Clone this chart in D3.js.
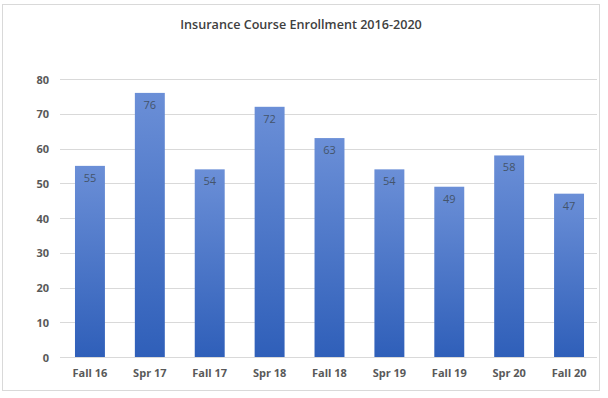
<!DOCTYPE html>
<html>
<head>
<meta charset="utf-8">
<script src="https://cdn.jsdelivr.net/npm/d3@7"></script>
<style>
  body { margin: 0; background: #fff; }
  svg { display: block; }
</style>
</head>
<body>
<div id="chart"></div>
<script>
const terms = ["Fall 16", "Spr 17", "Fall 17", "Spr 18", "Fall 18", "Spr 19", "Fall 19", "Spr 20", "Fall 20"]
const enrollment = [55, 76, 54, 72, 63, 54, 49, 58, 47]
const yTicks = [0, 10, 20, 30, 40, 50, 60, 70, 80]
const title = "Insurance Course Enrollment 2016-2020"

const width = 608, height = 398
const margin = { top: 79, right: 9, bottom: 40, left: 60 }
const font = "'Open Sans', 'Noto Sans', sans-serif"

const svg = d3.select("#chart").append("svg")
  .attr("width", width)
  .attr("height", height)

// frame
svg.append("rect")
  .attr("x", 2.5).attr("y", 4.5)
  .attr("width", 597).attr("height", 386)
  .attr("fill", "#fff")
  .attr("stroke", "#d9d9d9")

const grad = svg.append("defs").append("linearGradient")
  .attr("id", "barGrad")
  .attr("x1", 0).attr("y1", 0).attr("x2", 0).attr("y2", 1)
grad.append("stop").attr("offset", "0%").attr("stop-color", "#6b8fd7")
grad.append("stop").attr("offset", "100%").attr("stop-color", "#2f5fb9")

const x = d3.scaleBand()
  .domain(terms)
  .range([margin.left, width - margin.right])
  .paddingInner(0.5)
  .paddingOuter(0.25)

const y = d3.scaleLinear()
  .domain([0, 80])
  .range([height - margin.bottom - 1, margin.top])

// gridlines
svg.append("g")
  .attr("stroke", "#d9d9d9")
  .selectAll("line")
  .data(yTicks)
  .join("line")
  .attr("x1", margin.left)
  .attr("x2", width - margin.right - 2)
  .attr("y1", d => Math.round(y(d)) + 0.5)
  .attr("y2", d => Math.round(y(d)) + 0.5)

// y axis labels
const yAxis = svg.append("g")
  .attr("transform", `translate(${margin.left},0.5)`)
  .call(d3.axisLeft(y).tickValues(yTicks).tickSize(0).tickPadding(11))
yAxis.select(".domain").remove()
yAxis.selectAll("text")
  .attr("font-family", font)
  .attr("font-size", 11)
  .attr("font-weight", "bold")
  .attr("fill", "#595959")

// x axis labels
const xAxis = svg.append("g")
  .attr("transform", `translate(0,${y(0)})`)
  .call(d3.axisBottom(x).tickSize(0).tickPadding(12))
xAxis.select(".domain").remove()
xAxis.selectAll("text")
  .attr("font-family", font)
  .attr("font-size", 11)
  .attr("font-weight", "bold")
  .attr("fill", "#595959")

// bars
svg.append("g")
  .selectAll("rect")
  .data(terms)
  .join("rect")
  .attr("x", d => x(d))
  .attr("y", (d, i) => y(enrollment[i]))
  .attr("width", x.bandwidth())
  .attr("height", (d, i) => y(0) - y(enrollment[i]))
  .attr("fill", "url(#barGrad)")

// value labels
svg.append("g")
  .selectAll("text")
  .data(terms)
  .join("text")
  .attr("x", d => x(d) + x.bandwidth() / 2)
  .attr("y", (d, i) => y(enrollment[i]) + 16)
  .attr("text-anchor", "middle")
  .attr("font-family", font)
  .attr("font-size", 11)
  .attr("fill", "#44546a")
  .text((d, i) => enrollment[i])

// title
svg.append("text")
  .attr("x", 301)
  .attr("y", 29)
  .attr("text-anchor", "middle")
  .attr("font-family", font)
  .attr("font-size", 12.6)
  .attr("font-weight", 600)
  .attr("fill", "#404040")
  .text(title)
</script>
</body>
</html>
